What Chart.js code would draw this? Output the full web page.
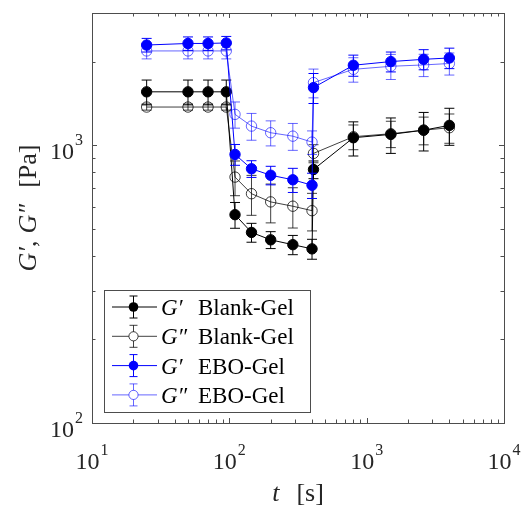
<!DOCTYPE html>
<html>
<head>
<meta charset="utf-8">
<script src="https://cdn.jsdelivr.net/npm/chart.js@4.4.1/dist/chart.umd.min.js"></script>
<style>
  html, body { margin: 0; padding: 0; background: #fff; }
  #wrap { width: 527px; height: 507px; }
</style>
</head>
<body>
<div id="wrap"><canvas id="chart" width="527" height="507"></canvas></div>
<script>
// time points [s]
const times = [25, 50, 70, 95, 110, 145, 200, 290, 400, 410, 800, 1500, 2600, 4000];

// moduli [Pa] and their error bars
const gpBlank = [1560, 1560, 1560, 1560, 563, 486, 457, 439, 424, 819, 1066, 1096, 1135, 1181];
const gpBlankErr = [160, 160, 160, 160, 60, 38, 32, 35, 35, 60, 150, 160, 180, 180];
const gppBlank = [1375, 1375, 1375, 1375, 769, 670, 626, 604, 582, 936, 1075, 1102, 1135, 1158];
const gppBlankErr = [35, 35, 35, 35, 110, 110, 100, 100, 90, 70, 110, 120, 130, 140];
const gpEbo = [2300, 2330, 2330, 2340, 928, 824, 781, 752, 719, 1616, 1945, 2005, 2043, 2066];
const gpEboErr = [130, 130, 130, 130, 80, 57, 60, 75, 75, 200, 170, 165, 170, 175];
const gppEbo = [2190, 2190, 2190, 2190, 1294, 1174, 1111, 1080, 1028, 1684, 1880, 1928, 1950, 1973];
const gppEboErr = [140, 140, 140, 140, 140, 130, 115, 120, 100, 200, 190, 200, 180, 180];

const xTicks = [10, 100, 1000, 10000];
const yTicks = [100, 1000];

const legendNames = ["Blank-Gel", "Blank-Gel", "EBO-Gel", "EBO-Gel"];
const legendSymbols = ["G\u2032", "G\u2033", "G\u2032", "G\u2033"];

const SERIF = '"Liberation Serif", "Times New Roman", serif';
const AXIS_COLOR = "#4d4d4d";

function toPoints(values) {
    return values.map((v, i) => ({ x: times[i], y: v }));
}

function makeSeries(label, values, errors, color, filled, order) {
    return {
        label: label,
        data: toPoints(values),
        errors: errors,
        borderColor: color,
        backgroundColor: filled ? color : "rgba(255,255,255,0)",
        pointBackgroundColor: filled ? color : "rgba(255,255,255,0)",
        pointBorderColor: color,
        pointBorderWidth: 1,
        pointRadius: 5.2,
        borderWidth: 1,
        fill: false,
        tension: 0,
        order: order,
        filled: filled
    };
}

const datasets = [
    makeSeries("G' Blank-Gel", gpBlank, gpBlankErr, "rgb(0,0,0)", true, 3),
    makeSeries("G'' Blank-Gel", gppBlank, gppBlankErr, "rgba(0,0,0,0.75)", false, 2),
    makeSeries("G' EBO-Gel", gpEbo, gpEboErr, "rgb(0,0,255)", true, 1),
    makeSeries("G'' EBO-Gel", gppEbo, gppEboErr, "rgba(0,0,255,0.6)", false, 0)
];

// error bars drawn under each dataset's markers
const errorBarPlugin = {
    id: "errorBars",
    beforeDatasetDraw(chart, args) {
        const ds = chart.data.datasets[args.index];
        const yScale = chart.scales.y;
        const ctx = chart.ctx;
        ctx.save();
        ctx.strokeStyle = ds.borderColor;
        ctx.lineWidth = 1;
        args.meta.data.forEach((pt, i) => {
            const v = ds.data[i].y;
            const e = ds.errors[i];
            const top = yScale.getPixelForValue(v + e);
            const bot = yScale.getPixelForValue(v - e);
            ctx.beginPath();
            ctx.moveTo(pt.x, top);
            ctx.lineTo(pt.x, bot);
            ctx.moveTo(pt.x - 5, top);
            ctx.lineTo(pt.x + 5, top);
            ctx.moveTo(pt.x - 5, bot);
            ctx.lineTo(pt.x + 5, bot);
            ctx.stroke();
        });
        ctx.restore();
    }
};

function drawPower(ctx, base, exp, x, y, align) {
    ctx.font = "24px " + SERIF;
    const wb = ctx.measureText(base).width;
    ctx.font = "16px " + SERIF;
    const we = ctx.measureText(exp).width;
    const total = wb + we + 1;
    let left = x;
    if (align === "center") left = x - total / 2;
    if (align === "right") left = x - total;
    ctx.textAlign = "left";
    ctx.textBaseline = "alphabetic";
    ctx.font = "24px " + SERIF;
    ctx.fillText(base, left, y);
    ctx.font = "16px " + SERIF;
    ctx.fillText(exp, left + wb + 1, y - 14);
}

// draws [text, italic, gapAfter] pieces in a row, centred on 0
function drawPieces(ctx, pieces, size, y) {
    let total = 0;
    pieces.forEach(p => {
        ctx.font = (p[1] ? "italic " : "") + size + "px " + SERIF;
        total += ctx.measureText(p[0]).width + p[2];
    });
    let cx = -total / 2;
    pieces.forEach(p => {
        ctx.font = (p[1] ? "italic " : "") + size + "px " + SERIF;
        ctx.fillText(p[0], cx, y);
        cx += ctx.measureText(p[0]).width + p[2];
    });
}

// box, inward ticks, tick labels, axis titles
const axesPlugin = {
    id: "matlabAxes",
    afterDatasetsDraw(chart) {
        const ctx = chart.ctx;
        const xs = chart.scales.x;
        const ys = chart.scales.y;
        const a = chart.chartArea;
        ctx.save();
        ctx.strokeStyle = AXIS_COLOR;
        ctx.lineWidth = 1;
        ctx.strokeRect(Math.round(a.left) + 0.5, Math.round(a.top) + 0.5,
            Math.round(a.right - a.left), Math.round(a.bottom - a.top));

        ctx.beginPath();
        for (let k = 1; k <= 4; k++) {
            for (let m = 1; m <= 9; m++) {
                const v = m * Math.pow(10, k);
                if (v < xs.min || v > xs.max) continue;
                const px = Math.round(xs.getPixelForValue(v)) + 0.5;
                const len = m === 1 ? 5 : 3.5;
                ctx.moveTo(px, a.bottom);
                ctx.lineTo(px, a.bottom - len);
                ctx.moveTo(px, a.top);
                ctx.lineTo(px, a.top + len);
            }
        }
        for (let k = 2; k <= 3; k++) {
            for (let m = 1; m <= 9; m++) {
                const v = m * Math.pow(10, k);
                if (v < ys.min || v >= ys.max) continue;
                const py = Math.round(ys.getPixelForValue(v)) + 0.5;
                const len = m === 1 ? 5 : 3.5;
                ctx.moveTo(a.left, py);
                ctx.lineTo(a.left + len, py);
                ctx.moveTo(a.right, py);
                ctx.lineTo(a.right - len, py);
            }
        }
        ctx.stroke();

        ctx.fillStyle = "#262626";
        xTicks.forEach(v => {
            const px = xs.getPixelForValue(v);
            drawPower(ctx, "10", String(Math.round(Math.log10(v))), px, 469, "center");
        });
        yTicks.forEach(v => {
            const py = ys.getPixelForValue(v);
            drawPower(ctx, "10", String(Math.round(Math.log10(v))), 83, py + 14, "right");
        });

        ctx.textAlign = "left";
        ctx.textBaseline = "alphabetic";

        // x title
        ctx.save();
        ctx.translate((a.left + a.right) / 2, 501);
        drawPieces(ctx, [["t", true, 17], ["[s]", false, 0]], 26, 0);
        ctx.restore();

        // y title
        ctx.save();
        ctx.translate(36, 208);
        ctx.rotate(-Math.PI / 2);
        drawPieces(ctx, [["G\u2032", true, 0], [",", false, 7], ["G\u2033", true, 16], ["[Pa]", false, 0]], 26, 0);
        ctx.restore();
        ctx.restore();
    }
};

// legend box with error-bar glyphs
const legendPlugin = {
    id: "errorLegend",
    afterDraw(chart) {
        const ctx = chart.ctx;
        const box = { left: 104, top: 290, right: 310, bottom: 412 };
        ctx.save();
        ctx.fillStyle = "#fff";
        ctx.fillRect(box.left, box.top, box.right - box.left, box.bottom - box.top);
        ctx.strokeStyle = AXIS_COLOR;
        ctx.lineWidth = 1;
        ctx.strokeRect(box.left + 0.5, box.top + 0.5, box.right - box.left, box.bottom - box.top);

        chart.data.datasets.forEach((ds, i) => {
            const y = 307 + i * 29.3;
            const mx = 133.5;
            ctx.strokeStyle = ds.borderColor;
            ctx.lineWidth = 1;
            ctx.beginPath();
            ctx.moveTo(112, y);
            ctx.lineTo(157, y);
            ctx.moveTo(mx, y - 11);
            ctx.lineTo(mx, y + 11);
            ctx.moveTo(mx - 4, y - 11);
            ctx.lineTo(mx + 4, y - 11);
            ctx.moveTo(mx - 4, y + 11);
            ctx.lineTo(mx + 4, y + 11);
            ctx.stroke();
            ctx.beginPath();
            ctx.arc(mx, y, ds.filled ? 4.8 : 4.6, 0, Math.PI * 2);
            if (ds.filled) {
                ctx.fillStyle = ds.borderColor;
                ctx.fill();
            } else {
                ctx.fillStyle = "#fff";
                ctx.fill();
                ctx.stroke();
            }

            ctx.fillStyle = "#000";
            ctx.textAlign = "left";
            ctx.textBaseline = "alphabetic";
            ctx.font = "italic 23px " + SERIF;
            ctx.fillText(legendSymbols[i], 161, y + 8);
            ctx.font = "23px " + SERIF;
            ctx.fillText(legendNames[i], 198, y + 8);
        });
        ctx.restore();
    }
};

new Chart(document.getElementById("chart"), {
    type: "line",
    data: { datasets: datasets },
    options: {
        responsive: false,
        animation: false,
        layout: {
            padding: { left: 92, right: 23, top: 13, bottom: 84 }
        },
        scales: {
            x: { type: "logarithmic", min: 10, max: 10000, display: false },
            y: { type: "logarithmic", min: 100, max: 3000, display: false }
        },
        plugins: {
            legend: { display: false },
            tooltip: { enabled: false }
        }
    },
    plugins: [errorBarPlugin, axesPlugin, legendPlugin]
});
</script>
</body>
</html>
